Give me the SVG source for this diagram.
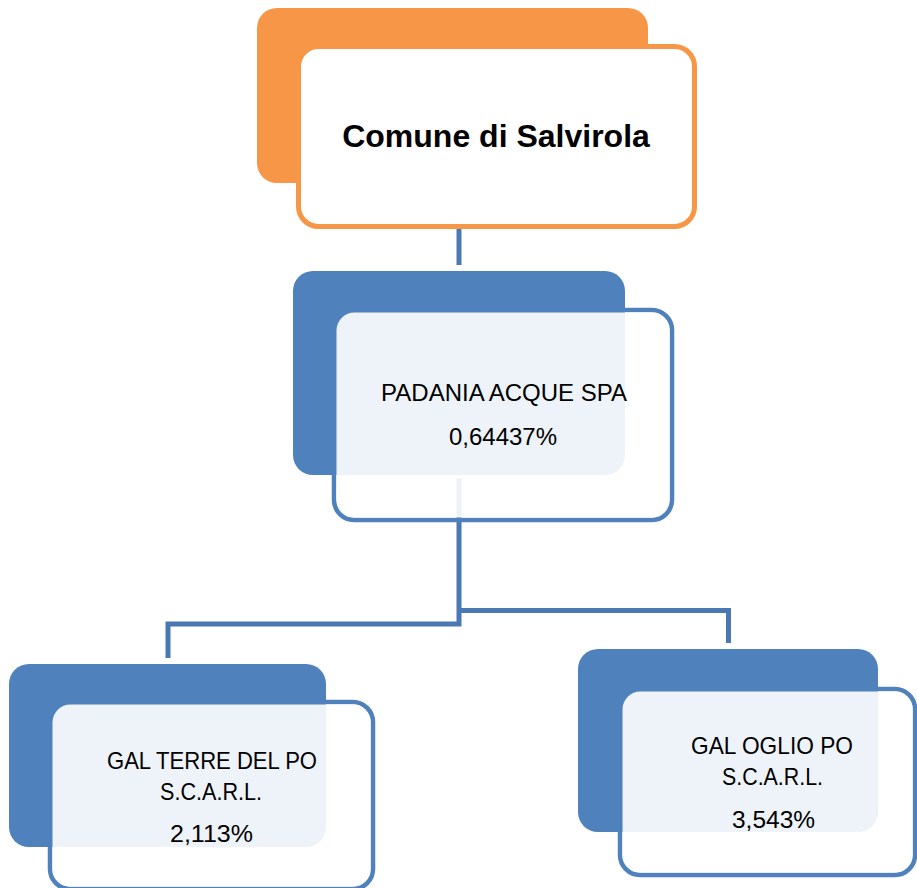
<svg xmlns="http://www.w3.org/2000/svg" width="917" height="888" viewBox="0 0 917 888">
<style>
.bg{fill:#ffffff}
.back-o{fill:#F79646}
.front-o{fill:#ffffff;stroke:#F79646;stroke-width:5}
.back-b{fill:#4F81BD}
.outline-b{fill:none;stroke:#4F81BD;stroke-width:4.5}
.overlay{fill:#ffffff;fill-opacity:0.9}
.conn{fill:none;stroke:#4A78B2;stroke-width:5;stroke-linejoin:miter}
.t{font-family:"Liberation Sans",Arial,sans-serif;fill:#000000;text-anchor:middle}
.tb{font-weight:bold;font-size:32px}
</style>
<rect class="bg" x="0" y="0" width="917" height="888"/>
<g id="connectors">
<path class="conn" d="M459 228 V265"/>
<path class="conn" d="M459 478 V624 H168 V658"/>
<path class="conn" d="M459 610.5 H728.5 V643"/>
</g>
<g id="node-comune">
<rect class="back-o" x="257" y="8" width="391" height="175" rx="20"/>
<rect class="front-o" x="298.5" y="46.5" width="396" height="180" rx="20"/>
<text class="t tb" x="496" y="147">Comune di Salvirola</text>
</g>
<g id="node-padania">
<rect class="outline-b" x="334" y="310" width="338" height="210" rx="20"/>
<rect class="back-b" x="293" y="271" width="332" height="204" rx="20"/>
<rect class="overlay" x="336.5" y="312.5" width="333" height="205" rx="18"/>
<text class="t" font-size="24" x="504" y="401">PADANIA ACQUE SPA</text>
<text class="t" font-size="24" x="503" y="445">0,64437%</text>
</g>
<g id="node-gal-terre">
<rect class="outline-b" x="50" y="702" width="323" height="187" rx="20"/>
<rect class="back-b" x="9" y="664" width="317" height="183" rx="20"/>
<rect class="overlay" x="52.5" y="704.5" width="318" height="182" rx="18"/>
<text class="t" font-size="24" x="212" y="769" textLength="210" lengthAdjust="spacingAndGlyphs">GAL TERRE DEL PO</text>
<text class="t" font-size="24" x="211" y="800" textLength="102" lengthAdjust="spacingAndGlyphs">S.C.A.R.L.</text>
<text class="t" font-size="24" x="211.5" y="842" textLength="83" lengthAdjust="spacingAndGlyphs">2,113%</text>
</g>
<g id="node-gal-oglio">
<rect class="outline-b" x="620" y="689" width="295" height="186" rx="20"/>
<rect class="back-b" x="578" y="649" width="300" height="183" rx="20"/>
<rect class="overlay" x="622.5" y="691.5" width="290" height="181" rx="18"/>
<text class="t" font-size="24" x="772" y="754" textLength="162" lengthAdjust="spacingAndGlyphs">GAL OGLIO PO</text>
<text class="t" font-size="24" x="772.5" y="785" textLength="101" lengthAdjust="spacingAndGlyphs">S.C.A.R.L.</text>
<text class="t" font-size="24" x="773.5" y="828" textLength="83" lengthAdjust="spacingAndGlyphs">3,543%</text>
</g>
</svg>
